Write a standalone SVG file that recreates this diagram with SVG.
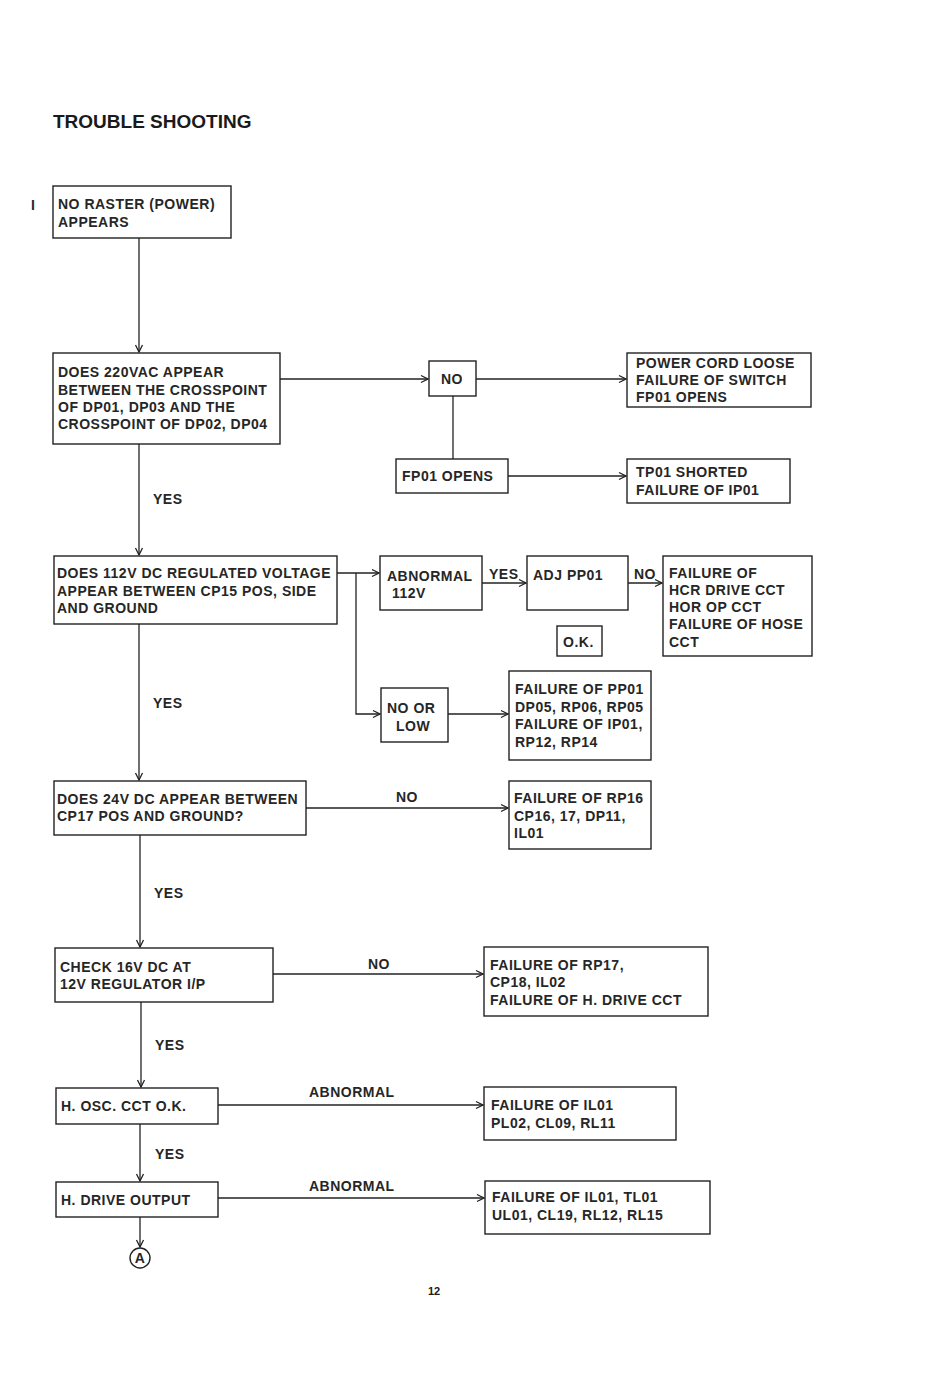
<svg xmlns="http://www.w3.org/2000/svg" width="950" height="1374" viewBox="0 0 950 1374">
<style>
.b{fill:none;stroke:#222;stroke-width:1.4}
.t{font-family:"Liberation Sans",Arial,sans-serif;font-size:14px;font-weight:bold;letter-spacing:0.5px;fill:#262626}
.c{fill:none;stroke:#222;stroke-width:1.3}
</style>
<defs>
<marker id="ar" markerWidth="10" markerHeight="10" refX="9" refY="5" orient="auto" markerUnits="userSpaceOnUse">
<path d="M2,1.5 L9,5 L2,8.5" fill="none" stroke="#222" stroke-width="1.3"/>
</marker>
</defs>
<rect width="950" height="1374" fill="#fff"/>
<text x="53" y="128" font-family="Liberation Sans,Arial,sans-serif" font-weight="bold" font-size="19" fill="#1a1a1a">TROUBLE SHOOTING</text>
<text class="t" x="31" y="210">I</text>

<g id="connectors">
<line class="c" x1="139" y1="238" x2="139" y2="352" marker-end="url(#ar)"/>
<line class="c" x1="280" y1="379" x2="428" y2="379" marker-end="url(#ar)"/>
<line class="c" x1="476" y1="379" x2="626" y2="379" marker-end="url(#ar)"/>
<line class="c" x1="453" y1="396" x2="453" y2="459"/>
<line class="c" x1="508" y1="476" x2="626" y2="476" marker-end="url(#ar)"/>
<line class="c" x1="139" y1="444" x2="139" y2="555" marker-end="url(#ar)"/>
<line class="c" x1="337" y1="573" x2="379" y2="573" marker-end="url(#ar)"/>
<polyline class="c" points="356,573 356,714 380,714" marker-end="url(#ar)"/>
<line class="c" x1="482" y1="583" x2="526" y2="583" marker-end="url(#ar)"/>
<line class="c" x1="628" y1="583" x2="662" y2="583" marker-end="url(#ar)"/>
<line class="c" x1="448" y1="714" x2="508" y2="714" marker-end="url(#ar)"/>
<line class="c" x1="139" y1="624" x2="139" y2="780" marker-end="url(#ar)"/>
<line class="c" x1="306" y1="808" x2="508" y2="808" marker-end="url(#ar)"/>
<line class="c" x1="140" y1="835" x2="140" y2="947" marker-end="url(#ar)"/>
<line class="c" x1="273" y1="974" x2="483" y2="974" marker-end="url(#ar)"/>
<line class="c" x1="141" y1="1002" x2="141" y2="1087" marker-end="url(#ar)"/>
<line class="c" x1="218" y1="1105" x2="483" y2="1105" marker-end="url(#ar)"/>
<line class="c" x1="140" y1="1124" x2="140" y2="1181" marker-end="url(#ar)"/>
<line class="c" x1="218" y1="1198" x2="484" y2="1198" marker-end="url(#ar)"/>
<line class="c" x1="140" y1="1217" x2="140" y2="1247" marker-end="url(#ar)"/>
<text class="t" x="153" y="504">YES</text>
<text class="t" x="489" y="579">YES</text>
<text class="t" x="634" y="579">NO</text>
<text class="t" x="153" y="708">YES</text>
<text class="t" x="396" y="802">NO</text>
<text class="t" x="154" y="898">YES</text>
<text class="t" x="368" y="969">NO</text>
<text class="t" x="155" y="1050">YES</text>
<text class="t" x="309" y="1097">ABNORMAL</text>
<text class="t" x="155" y="1159">YES</text>
<text class="t" x="309" y="1191">ABNORMAL</text>
</g>

<g id="n1"><rect class="b" x="53" y="186" width="178" height="52"/>
<text class="t" x="58" y="209">NO RASTER (POWER)</text><text class="t" x="58" y="227">APPEARS</text></g>

<g id="n2"><rect class="b" x="53" y="353" width="227" height="91"/>
<text class="t" x="58" y="377">DOES 220VAC APPEAR</text>
<text class="t" x="58" y="395">BETWEEN THE CROSSPOINT</text>
<text class="t" x="58" y="412">OF DP01, DP03 AND THE</text>
<text class="t" x="58" y="429">CROSSPOINT OF DP02, DP04</text></g>

<g id="n3"><rect class="b" x="429" y="361" width="47" height="35"/>
<text class="t" x="441" y="384">NO</text></g>

<g id="n4"><rect class="b" x="627" y="353" width="184" height="54"/>
<text class="t" x="636" y="368">POWER CORD LOOSE</text>
<text class="t" x="636" y="385">FAILURE OF SWITCH</text>
<text class="t" x="636" y="402">FP01 OPENS</text></g>

<g id="n5"><rect class="b" x="396" y="459" width="112" height="34"/>
<text class="t" x="402" y="481">FP01 OPENS</text></g>

<g id="n6"><rect class="b" x="627" y="459" width="163" height="44"/>
<text class="t" x="636" y="477">TP01 SHORTED</text>
<text class="t" x="636" y="495">FAILURE OF IP01</text></g>

<g id="n7"><rect class="b" x="54" y="556" width="283" height="68"/>
<text class="t" x="57" y="578">DOES 112V DC REGULATED VOLTAGE</text>
<text class="t" x="57" y="596">APPEAR BETWEEN CP15 POS, SIDE</text>
<text class="t" x="57" y="613">AND GROUND</text></g>

<g id="n8"><rect class="b" x="380" y="556" width="102" height="54"/>
<text class="t" x="387" y="581">ABNORMAL</text>
<text class="t" x="392" y="598">112V</text></g>

<g id="n9"><rect class="b" x="527" y="556" width="101" height="54"/>
<text class="t" x="533" y="580">ADJ  PP01</text></g>

<g id="n10"><rect class="b" x="663" y="556" width="149" height="100"/>
<text class="t" x="669" y="578">FAILURE OF</text>
<text class="t" x="669" y="595">HCR DRIVE CCT</text>
<text class="t" x="669" y="612">HOR OP CCT</text>
<text class="t" x="669" y="629">FAILURE OF HOSE</text>
<text class="t" x="669" y="647">CCT</text></g>

<g id="n11"><rect class="b" x="557" y="626" width="45" height="30"/>
<text class="t" x="563" y="647">O.K.</text></g>

<g id="n12"><rect class="b" x="381" y="688" width="67" height="54"/>
<text class="t" x="387" y="713">NO OR</text>
<text class="t" x="396" y="731">LOW</text></g>

<g id="n13"><rect class="b" x="509" y="671" width="142" height="89"/>
<text class="t" x="515" y="694">FAILURE OF PP01</text>
<text class="t" x="515" y="712">DP05, RP06, RP05</text>
<text class="t" x="515" y="729">FAILURE OF IP01,</text>
<text class="t" x="515" y="747">RP12, RP14</text></g>

<g id="n14"><rect class="b" x="54" y="781" width="252" height="54"/>
<text class="t" x="57" y="804">DOES 24V DC APPEAR BETWEEN</text>
<text class="t" x="57" y="821">CP17 POS AND GROUND?</text></g>

<g id="n15"><rect class="b" x="509" y="781" width="142" height="68"/>
<text class="t" x="514" y="803">FAILURE OF RP16</text>
<text class="t" x="514" y="821">CP16, 17, DP11,</text>
<text class="t" x="514" y="838">IL01</text></g>

<g id="n16"><rect class="b" x="55" y="948" width="218" height="54"/>
<text class="t" x="60" y="972">CHECK 16V DC AT</text>
<text class="t" x="60" y="989">12V REGULATOR I/P</text></g>

<g id="n17"><rect class="b" x="484" y="947" width="224" height="69"/>
<text class="t" x="490" y="970">FAILURE OF RP17,</text>
<text class="t" x="490" y="987">CP18, IL02</text>
<text class="t" x="490" y="1005">FAILURE OF H. DRIVE CCT</text></g>

<g id="n18"><rect class="b" x="56" y="1088" width="162" height="36"/>
<text class="t" x="61" y="1111">H. OSC. CCT O.K.</text></g>

<g id="n19"><rect class="b" x="484" y="1087" width="192" height="53"/>
<text class="t" x="491" y="1110">FAILURE OF IL01</text>
<text class="t" x="491" y="1128">PL02, CL09, RL11</text></g>

<g id="n20"><rect class="b" x="56" y="1182" width="162" height="35"/>
<text class="t" x="61" y="1205">H. DRIVE OUTPUT</text></g>

<g id="n21"><rect class="b" x="485" y="1181" width="225" height="53"/>
<text class="t" x="492" y="1202">FAILURE OF IL01, TL01</text>
<text class="t" x="492" y="1220">UL01, CL19, RL12, RL15</text></g>

<g id="n22"><circle class="b" cx="140" cy="1258" r="10"/>
<text class="t" x="140" y="1263" text-anchor="middle" font-size="13" letter-spacing="0">A</text></g>

<text x="434" y="1295" text-anchor="middle" font-family="Liberation Sans,Arial,sans-serif" font-weight="bold" font-size="11" fill="#1a1a1a">12</text>
</svg>
